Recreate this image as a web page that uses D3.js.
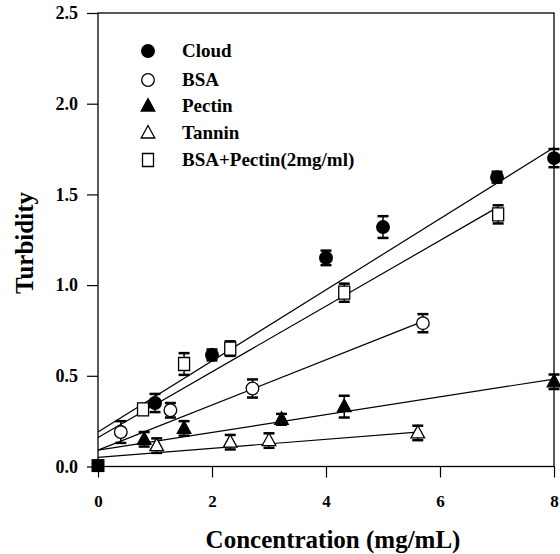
<!DOCTYPE html>
<html><head><meta charset="utf-8">
<script src="https://cdn.jsdelivr.net/npm/d3@7/dist/d3.min.js"></script>
<style>
html,body{margin:0;padding:0;background:#fff;}
svg{display:block;}
text{font-family:"Liberation Serif","Times New Roman",serif;font-weight:bold;fill:#000;}
</style></head>
<body>
<svg id="chart" width="560" height="554"></svg>
<script>
// ---- data ----
const seriesNames = ["Cloud", "BSA", "Pectin", "Tannin", "BSA+Pectin(2mg/ml)"];
const seriesShapes = ["circle", "circle", "triangle", "triangle", "square"];
const seriesFilled = [true, false, true, false, false];

const cloudX = [1.0, 2.0, 4.0, 5.0, 7.0, 8.0];
const cloudY = [0.35, 0.615, 1.15, 1.32, 1.595, 1.70];
const cloudErr = [0.05, 0.03, 0.04, 0.06, 0.03, 0.05];

const bsaX = [0.4, 1.27, 2.71, 5.7];
const bsaY = [0.19, 0.31, 0.43, 0.79];
const bsaErr = [0.06, 0.04, 0.05, 0.05];

const pectinX = [0.81, 1.51, 3.22, 4.32, 8.0];
const pectinY = [0.15, 0.21, 0.26, 0.33, 0.467];
const pectinErr = [0.04, 0.04, 0.03, 0.06, 0.04];

const tanninX = [1.03, 2.32, 3.0, 5.61];
const tanninY = [0.115, 0.134, 0.143, 0.185];
const tanninErr = [0.04, 0.04, 0.04, 0.04];

const bsaPectinX = [0.79, 1.51, 2.32, 4.32, 7.02];
const bsaPectinY = [0.315, 0.565, 0.65, 0.958, 1.39];
const bsaPectinErr = [0.03, 0.06, 0.04, 0.05, 0.05];

// common origin point (all series)
const originX = [0];
const originY = [0.005];

// fitted regression lines: intercept, slope, last x
const fitIntercept = [0.19, 0.09, 0.09, 0.05, 0.16];
const fitSlope = [0.196, 0.1246, 0.049, 0.025, 0.181];
const fitEnd = [8.0, 5.7, 8.0, 5.6, 7.0];

const xTicks = [0, 2, 4, 6, 8];
const yTicks = [0.0, 0.5, 1.0, 1.5, 2.0, 2.5];

const xs = [cloudX, bsaX, pectinX, tanninX, bsaPectinX];
const ys = [cloudY, bsaY, pectinY, tanninY, bsaPectinY];
const es = [cloudErr, bsaErr, pectinErr, tanninErr, bsaPectinErr];

// ---- layout ----
const svg = d3.select("#chart");
const L = 98, R = 554, T = 13, B = 466.5;
const x = d3.scaleLinear().domain([0, 8]).range([L, R]);
const y = d3.scaleLinear().domain([0, 2.5]).range([B, T]);

function shapePath(shape) {
  if (shape === "circle") return d3.symbol().type(d3.symbolCircle).size(Math.PI * 6.3 * 6.3)();
  if (shape === "triangle") return "M0,-7.5L6.8,5L-6.8,5Z";
  return "M-5.5,-6.5L5.5,-6.5L5.5,6.5L-5.5,6.5Z";
}

// frame
svg.append("rect").attr("x", L).attr("y", T).attr("width", R - L).attr("height", B - T)
  .attr("fill", "none").attr("stroke", "#000").attr("stroke-width", 1.3);

// axes
const xAxis = d3.axisBottom(x).tickValues(xTicks).tickSize(11).tickPadding(17).tickFormat(d3.format("d"));
const gx = svg.append("g").attr("transform", `translate(0,${B})`).call(xAxis);
gx.select(".domain").remove();
gx.selectAll("line").attr("stroke", "#000").attr("stroke-width", 1.2);
gx.selectAll("text").style("font-size", "17px").attr("fill", "#000");

const yAxis = d3.axisLeft(y).tickValues(yTicks).tickSize(11).tickPadding(9).tickFormat(d3.format(".1f"));
const gy = svg.append("g").attr("transform", `translate(${L},0)`).call(yAxis);
gy.select(".domain").remove();
gy.selectAll("line").attr("stroke", "#000").attr("stroke-width", 1.2);
gy.selectAll("text").style("font-size", "18px").attr("fill", "#000");

// axis titles
svg.append("text").attr("x", 333).attr("y", 548).attr("text-anchor", "middle")
  .style("font-size", "25px").text("Concentration (mg/mL)");
svg.append("text").attr("transform", "translate(33,243) rotate(-90)").attr("text-anchor", "middle")
  .style("font-size", "25px").text("Turbidity");

// fit lines
const fitG = svg.append("g");
seriesNames.forEach((n, i) => {
  fitG.append("line")
    .attr("x1", x(0)).attr("y1", y(fitIntercept[i]))
    .attr("x2", x(fitEnd[i])).attr("y2", y(fitIntercept[i] + fitSlope[i] * fitEnd[i]))
    .attr("stroke", "#000").attr("stroke-width", 1.2);
});

// error bars + markers
const ptG = svg.append("g");
seriesNames.forEach((n, i) => {
  const pts = xs[i].map((xv, j) => ({ x: xv, y: ys[i][j], e: es[i][j] }));
  const g = ptG.append("g");
  pts.forEach(p => {
    const cx = x(p.x), y1 = y(p.y + p.e), y2 = y(p.y - p.e);
    g.append("line").attr("x1", cx).attr("x2", cx).attr("y1", y1).attr("y2", y2)
      .attr("stroke", "#000").attr("stroke-width", 1.5);
    [y1, y2].forEach(yy => g.append("line").attr("x1", cx - 5.5).attr("x2", cx + 5.5)
      .attr("y1", yy).attr("y2", yy).attr("stroke", "#000").attr("stroke-width", 2.5));
  });
  g.selectAll("path.m").data(pts).enter().append("path")
    .attr("d", shapePath(seriesShapes[i]))
    .attr("transform", d => `translate(${x(d.x)},${y(d.y)})`)
    .attr("fill", seriesFilled[i] ? "#000" : "#fff")
    .attr("stroke", "#000").attr("stroke-width", 1.3);
});

// origin point (filled square, common to all series)
svg.append("g").selectAll("rect").data(originX.map((v, i) => ({ x: v, y: originY[i] }))).enter()
  .append("rect").attr("x", d => x(d.x) - 6.5).attr("y", d => y(d.y) - 6.5)
  .attr("width", 13).attr("height", 13).attr("fill", "#000");

// legend
const legY = [51, 80, 106, 133, 160];
const leg = svg.append("g");
seriesNames.forEach((n, i) => {
  leg.append("path").attr("d", shapePath(seriesShapes[i]))
    .attr("transform", `translate(148,${legY[i]})`)
    .attr("fill", seriesFilled[i] ? "#000" : "#fff")
    .attr("stroke", "#000").attr("stroke-width", 1.3);
  leg.append("text").attr("x", 182).attr("y", legY[i] + 6).style("font-size", "19px").text(n);
});
</script>
</body></html>
